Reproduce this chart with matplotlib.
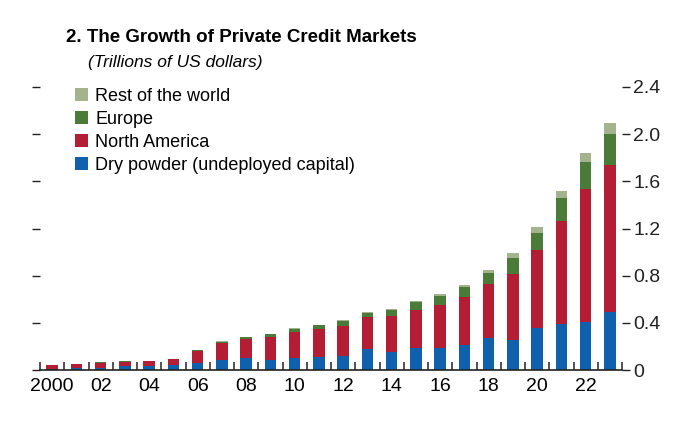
import matplotlib
matplotlib.use("Agg")
import matplotlib.pyplot as plt
import numpy as np

# data (trillions of US dollars)
years = list(range(2000, 2024))
dry_powder = [0.012, 0.015, 0.020, 0.030, 0.035, 0.040, 0.059, 0.081, 0.102, 0.087,
              0.102, 0.113, 0.115, 0.178, 0.149, 0.183, 0.189, 0.215, 0.268, 0.257,
              0.353, 0.387, 0.407, 0.494]
north_america = [0.028, 0.034, 0.042, 0.042, 0.040, 0.053, 0.104, 0.150, 0.161, 0.195,
                 0.220, 0.232, 0.258, 0.268, 0.305, 0.326, 0.362, 0.401, 0.458, 0.560,
                 0.665, 0.877, 1.125, 1.247]
europe = [0.001, 0.001, 0.002, 0.002, 0.002, 0.003, 0.005, 0.008, 0.014, 0.020,
          0.028, 0.034, 0.045, 0.034, 0.054, 0.068, 0.076, 0.091, 0.097, 0.136,
          0.144, 0.192, 0.229, 0.260]
rest_of_world = [0.001, 0.001, 0.001, 0.001, 0.001, 0.001, 0.002, 0.003, 0.003, 0.003,
                 0.004, 0.004, 0.005, 0.008, 0.008, 0.011, 0.014, 0.017, 0.028, 0.040,
                 0.051, 0.063, 0.080, 0.090]
y_ticks = [0, 0.4, 0.8, 1.2, 1.6, 2.0, 2.4]
y_tick_labels = ["0", "0.4", "0.8", "1.2", "1.6", "2.0", "2.4"]
x_label_years = list(range(2000, 2023, 2))
x_tick_labels = ["2000"] + ["%02d" % (y % 100) for y in x_label_years[1:]]

COLORS = {
    "dry": "#1061ad",
    "na": "#b31e35",
    "eu": "#4a7b38",
    "row": "#a4b38d",
}

plt.rcParams["font.family"] = ["Liberation Sans", "DejaVu Sans"]

fig = plt.figure(figsize=(6.96, 4.25), dpi=100)
ax = fig.add_axes([0.0575, 0.1294, 0.8362, 0.6659])

x = np.array(years)
w = 0.48
b1 = np.array(dry_powder)
b2 = b1 + np.array(north_america)
b3 = b2 + np.array(europe)

ax.bar(x, dry_powder, w, color=COLORS["dry"], label="Dry powder (undeployed capital)")
ax.bar(x, north_america, w, bottom=b1, color=COLORS["na"], label="North America")
ax.bar(x, europe, w, bottom=b2, color=COLORS["eu"], label="Europe")
ax.bar(x, rest_of_world, w, bottom=b3, color=COLORS["row"], label="Rest of the world")

ax.set_xlim(1999.5, 2023.5)
ax.set_ylim(0, 2.4)

for s in ["top", "left", "right"]:
    ax.spines[s].set_visible(False)
ax.spines["bottom"].set_color("#222222")
ax.spines["bottom"].set_linewidth(1.2)

# right-hand labels, bare left-hand ticks
ax.yaxis.tick_right()
ax.set_yticks(y_ticks)
ax.set_yticklabels(y_tick_labels)
ax.tick_params(axis="y", which="major", direction="out", length=6, width=1,
               labelsize=14, pad=2, left=True, right=True, labelleft=False,
               labelright=True, colors="#222222")

# ticks between the bars (major), year labels under bars (minor, no tick)
ax.set_xticks(np.arange(1999.5, 2024.0, 1.0))
ax.set_xticklabels([])
ax.tick_params(axis="x", which="major", direction="in", length=6, width=1.3,
               color="#444444")
ax.set_xticks(x_label_years, minor=True)
ax.set_xticklabels(x_tick_labels, minor=True)
ax.tick_params(axis="x", which="minor", length=0, labelsize=14, pad=6)

handles, labels = ax.get_legend_handles_labels()
ax.legend(handles[::-1], labels[::-1], loc="upper left", bbox_to_anchor=(0.047, 1.023),
          frameon=False, fontsize=13, handlelength=0.75, handleheight=0.75,
          handletextpad=0.4, labelspacing=0.34, borderaxespad=0)

fig.text(66 / 696, 1 - 38 / 425, "2. The Growth of Private Credit Markets",
         fontsize=13.5, fontweight="bold", va="center", ha="left")
fig.text(88 / 696, 1 - 62 / 425, "(Trillions of US dollars)",
         fontsize=12.5, style="italic", va="center", ha="left")

fig.savefig("out.png", dpi=100)
